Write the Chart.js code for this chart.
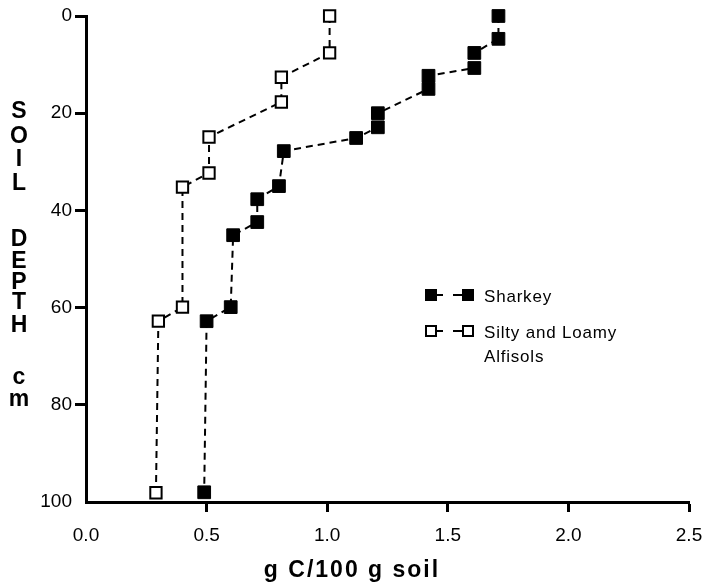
<!DOCTYPE html>
<html>
<head>
<meta charset="utf-8">
<script src="https://cdn.jsdelivr.net/npm/chart.js@4/dist/chart.umd.min.js"></script>
<style>
html,body{margin:0;padding:0;background:#fff;}
#wrap{width:704px;height:583px;position:relative;}
</style>
</head>
<body>
<div id="wrap"><canvas id="c" width="704" height="583"></canvas></div>
<script>
// ---- data ----
const sharkeyCarbon = [1.71, 1.71, 1.61, 1.61, 1.42, 1.42, 1.21, 1.21, 1.12, 0.82, 0.80, 0.71, 0.71, 0.61, 0.60, 0.50, 0.49];
const sharkeyDepth  = [0, 4.7, 7.6, 10.7, 12.3, 15.0, 20.0, 22.9, 25.1, 27.8, 35.0, 37.7, 42.4, 45.1, 59.9, 62.8, 98.0];
const alfisolCarbon = [1.01, 1.01, 0.81, 0.81, 0.51, 0.51, 0.40, 0.40, 0.30, 0.29];
const alfisolDepth  = [0, 7.6, 12.6, 17.7, 24.9, 32.3, 35.2, 59.9, 62.8, 98.1];
const xTicks = [0, 0.5, 1.0, 1.5, 2.0, 2.5];
const yTicks = [0, 20, 40, 60, 80, 100];
const seriesNames = ["Sharkey", "Silty and Loamy", "Alfisols"];
const xTitle = "g C/100 g soil";
const yTitleLetters = ["S","O","I","L","D","E","P","T","H","c","m"];

const toPts = (xs, ys) => xs.map((x, i) => ({x: x, y: ys[i]}));

const titlePlugin = {
  id: 'customText',
  afterDraw(chart) {
    const ctx = chart.ctx;
    ctx.save();
    ctx.fillStyle = '#000';
    // y-axis title, stacked letters
    ctx.font = 'bold 23px "Liberation Sans", Arial, sans-serif';
    ctx.textAlign = 'center';
    ctx.textBaseline = 'middle';
    const yPos = [112, 137, 160, 184, 240, 262, 283, 303, 326, 378, 400];
    yTitleLetters.forEach((l, i) => ctx.fillText(l, 19, yPos[i]));
    // x-axis title
    ctx.font = 'bold 23px "Liberation Sans", Arial, sans-serif';
    ctx.letterSpacing = '2px';
    ctx.textBaseline = 'alphabetic';
    ctx.fillText(xTitle, 352, 577);
    // legend
    ctx.letterSpacing = '0.8px';
    ctx.font = '17px "Liberation Sans", Arial, sans-serif';
    ctx.textAlign = 'left';
    ctx.fillText(seriesNames[0], 484, 302);
    ctx.fillText(seriesNames[1], 484, 338);
    ctx.fillText(seriesNames[2], 484, 362);
    ctx.letterSpacing = '0px';
    // legend samples
    ctx.lineWidth = 2;
    ctx.strokeStyle = '#000';
    const sample = (y, filled) => {
      ctx.beginPath();
      ctx.moveTo(436, y); ctx.lineTo(443, y);
      ctx.moveTo(453, y); ctx.lineTo(462, y);
      ctx.stroke();
      [[425, y - 6], [462, y - 6]].forEach(([x0, y0]) => {
        if (filled) { ctx.fillRect(x0, y0, 12, 12); }
        else { ctx.fillStyle = '#fff'; ctx.fillRect(x0, y0, 12, 12); ctx.fillStyle = '#000'; ctx.strokeRect(x0 + 1, y0 + 1, 10, 10); }
      });
    };
    sample(295, true);
    sample(331, false);
    ctx.restore();
  }
};

new Chart(document.getElementById('c'), {
  type: 'scatter',
  data: {
    datasets: [
      {
        label: seriesNames[0],
        data: toPts(sharkeyCarbon, sharkeyDepth),
        showLine: true,
        clip: false,
        borderColor: '#000',
        borderWidth: 2,
        borderDash: [7, 5],
        pointStyle: 'rect',
        pointRadius: 9,
        pointBackgroundColor: '#000',
        pointBorderColor: '#000',
        pointBorderWidth: 1
      },
      {
        label: seriesNames[1] + ' ' + seriesNames[2],
        data: toPts(alfisolCarbon, alfisolDepth),
        showLine: true,
        clip: false,
        borderColor: '#000',
        borderWidth: 2,
        borderDash: [7, 5],
        pointStyle: 'rect',
        pointRadius: 8,
        pointBackgroundColor: '#fff',
        pointBorderColor: '#000',
        pointBorderWidth: 2
      }
    ]
  },
  options: {
    responsive: false,
    animation: false,
    layout: { padding: { top: 16, right: 15, left: 0, bottom: 0 } },
    plugins: { legend: { display: false }, tooltip: { enabled: false } },
    scales: {
      x: {
        type: 'linear',
        min: 0, max: 2.5,
        afterFit(s) { s.height = 81; s.paddingLeft = 0; s.paddingRight = 0; },
        afterBuildTicks(s) { s.ticks = xTicks.map(v => ({value: v})); },
        border: { display: true, color: '#000', width: 3 },
        grid: {
          drawOnChartArea: false, drawTicks: true, tickLength: 10,
          tickWidth: 3,
          tickColor: (c) => (c.tick && c.tick.value === 0) ? 'rgba(0,0,0,0)' : '#000'
        },
        ticks: {
          color: '#000', padding: 12,
          font: { family: '"Liberation Sans", Arial, sans-serif', size: 19 },
          callback: (v) => Number(v).toFixed(1)
        }
      },
      y: {
        type: 'linear',
        reverse: true,
        min: 0, max: 100,
        afterFit(s) { s.width = 86; s.paddingTop = 0; s.paddingBottom = 0; },
        afterBuildTicks(s) { s.ticks = yTicks.map(v => ({value: v})); },
        border: { display: true, color: '#000', width: 3 },
        grid: {
          drawOnChartArea: false, drawTicks: true, tickLength: 11,
          tickWidth: 3,
          tickColor: (c) => (c.tick && c.tick.value === 100) ? 'rgba(0,0,0,0)' : '#000'
        },
        ticks: {
          color: '#000', padding: 3,
          font: { family: '"Liberation Sans", Arial, sans-serif', size: 19 },
          callback: (v) => String(v)
        }
      }
    }
  },
  plugins: [titlePlugin]
});
</script>
</body>
</html>
